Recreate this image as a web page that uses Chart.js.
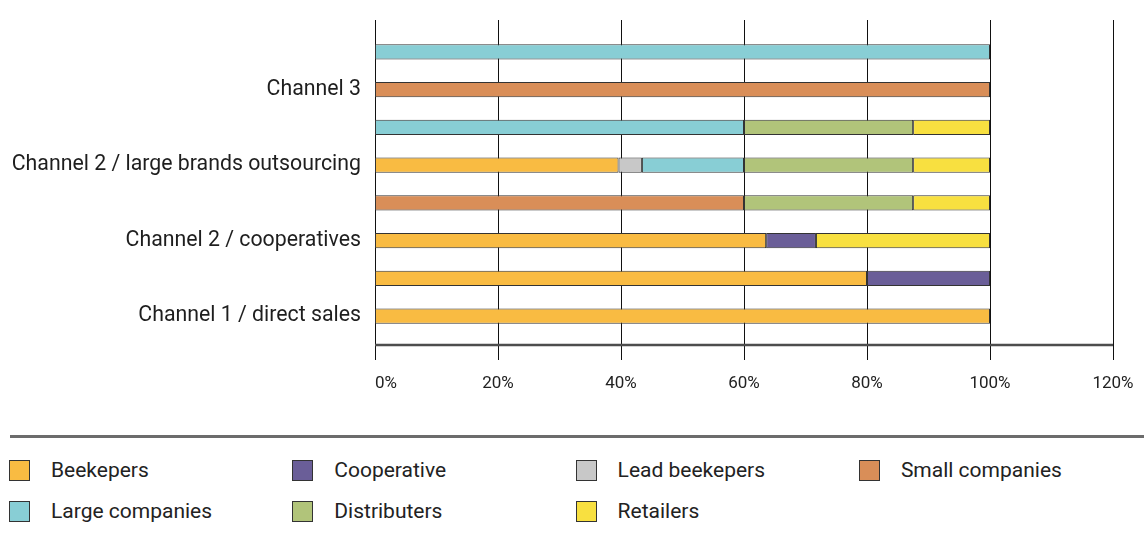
<!DOCTYPE html>
<html>
<head>
<meta charset="utf-8">
<script src="https://cdn.jsdelivr.net/npm/chart.js@4"></script>
<style>
  body { margin: 0; background: #fff; width: 1144px; height: 539px; overflow: hidden; position: relative; font-family: Roboto, sans-serif; }
  #wrap { position: absolute; left: 0; top: 0; width: 1144px; height: 400px; }
  #rule { position: absolute; left: 10px; top: 435px; width: 1134px; height: 3px; background: #6c6c6c; }
  #legend { position: absolute; left: 9px; top: 459px; display: grid; grid-template-columns: repeat(4, 283.3px); grid-auto-rows: 41px; }
  .item { display: flex; align-items: center; height: 22px; font-size: 21px; color: #222; white-space: nowrap; }
  .box { width: 19px; height: 19px; border: 1.5px solid #333; margin-right: 21px; flex: none; }
</style>
</head>
<body>
<div id="wrap"><canvas id="myChart" width="1144" height="400"></canvas></div>
<div id="rule"></div>
<div id="legend"></div>
<script>
// rows top to bottom, empty label = unlabeled row
const categories = ["", "Channel 3", "", "Channel 2 / large brands outsourcing", "", "Channel 2 / cooperatives", "", "Channel 1 / direct sales"];
const xTicks = [0, 20, 40, 60, 80, 100, 120];

const beekepers      = [null, null, null, 39.6, null, 63.6, 80, 100];
const cooperative    = [null, null, null, null, null, 8.1, 20, null];
const leadBeekepers  = [null, null, null, 3.8, null, null, null, null];
const smallCompanies = [null, 100, null, null, 60, null, null, null];
const largeCompanies = [100, null, 60, 16.6, null, null, null, null];
const distributers   = [null, null, 27.5, 27.5, 27.5, null, null, null];
const retailers      = [null, null, 12.5, 12.5, 12.5, 28.3, null, null];

const series = [
  { label: "Beekepers", data: beekepers, color: "#F9BB42" },
  { label: "Cooperative", data: cooperative, color: "#6A5E98" },
  { label: "Lead beekepers", data: leadBeekepers, color: "#C8C8C8" },
  { label: "Small companies", data: smallCompanies, color: "#D98E58" },
  { label: "Large companies", data: largeCompanies, color: "#88CED5" },
  { label: "Distributers", data: distributers, color: "#B1C47A" },
  { label: "Retailers", data: retailers, color: "#F8E040" },
];

// grid lines reach a bit past the plot, axis line sits under the bars
const refGrid = {
  id: "refGrid",
  beforeDatasetsDraw(chart) {
    const { ctx, chartArea, scales: { x } } = chart;
    ctx.save();
    ctx.strokeStyle = "#111";
    ctx.lineWidth = 1;
    x.ticks.forEach((t) => {
      const px = Math.round(x.getPixelForValue(t.value)) + 0.5;
      ctx.beginPath();
      ctx.moveTo(px, chartArea.top - 13);
      ctx.lineTo(px, chartArea.bottom + 25);
      ctx.stroke();
    });
    ctx.strokeStyle = "#4d4d4d";
    ctx.lineWidth = 2.5;
    ctx.beginPath();
    ctx.moveTo(x.left, chartArea.bottom + 10);
    ctx.lineTo(x.right, chartArea.bottom + 10);
    ctx.stroke();
    ctx.restore();
  },
  afterDraw(chart) {
    const { ctx, chartArea, scales: { x } } = chart;
    ctx.save();
    ctx.font = "17px Roboto";
    ctx.fillStyle = "#222";
    ctx.textBaseline = "middle";
    x.ticks.forEach((t, i) => {
      ctx.textAlign = i === 0 ? "left" : "center";
      ctx.fillText(t.value + "%", x.getPixelForValue(t.value), chartArea.bottom + 49);
    });
    ctx.restore();
  },
};

const ctx = document.getElementById("myChart");
const myChart = new Chart(ctx, {
  type: "bar",
  data: {
    labels: categories,
    datasets: series.map((s) => ({
      label: s.label,
      data: s.data,
      backgroundColor: s.color,
      borderColor: "#333",
      borderWidth: 1,
      borderSkipped: false,
      barPercentage: 0.4,
      categoryPercentage: 1,
    })),
  },
  options: {
    indexAxis: "y",
    responsive: false,
    animation: false,
    devicePixelRatio: 1,
    layout: { padding: { top: 33, right: 31, left: 0, bottom: 0 } },
    plugins: { legend: { display: false }, tooltip: { enabled: false } },
    scales: {
      x: {
        stacked: true,
        min: xTicks[0],
        max: xTicks[xTicks.length - 1],
        ticks: { stepSize: 20, display: false },
        grid: { display: false },
        border: { display: false },
        afterFit: (scale) => { scale.height = 65; },
      },
      y: {
        stacked: true,
        grid: { display: false, drawTicks: false },
        border: { display: false },
        ticks: { padding: 14, color: "#1e1e1e", font: { family: "Roboto", size: 21.3 } },
        afterFit: (scale) => { scale.width = 375; },
      },
    },
  },
  plugins: [refGrid],
});

// legend in four fixed columns
const legend = document.getElementById("legend");
series.forEach((s) => {
  const item = document.createElement("div");
  item.className = "item";
  const box = document.createElement("span");
  box.className = "box";
  box.style.background = s.color;
  item.appendChild(box);
  item.appendChild(document.createTextNode(s.label));
  legend.appendChild(item);
});
</script>
</body>
</html>
